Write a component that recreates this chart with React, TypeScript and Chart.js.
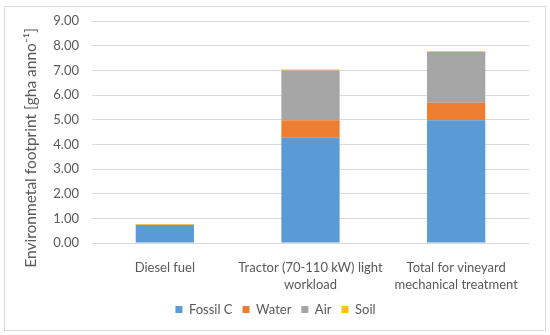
import React, { useEffect, useRef } from "react";
import { Chart, registerables } from "chart.js";

Chart.register(...registerables);

const categories: (string | string[])[] = [
  "Diesel fuel",
  ["Tractor (70-110 kW) light", "workload"],
  ["Total for vineyard", "mechanical treatment"],
];
const fossilC = [0.73, 4.27, 4.98];
const water = [0.0, 0.71, 0.71];
const air = [0.01, 2.01, 2.05];
const soil = [0.03, 0.04, 0.03];
const yTicks = [0, 1, 2, 3, 4, 5, 6, 7, 8, 9];

const FONT = "Lato, 'Open Sans', sans-serif";
const TEXT = "#595959";

export default function App() {
  const ref = useRef<HTMLCanvasElement | null>(null);
  useEffect(() => {
    if (!ref.current) return;
    const chart = new Chart(ref.current, {
      type: "bar",
      data: {
        labels: categories,
        datasets: [
          { label: "Fossil C", data: fossilC, backgroundColor: "#5B9BD5" },
          { label: "Water", data: water, backgroundColor: "#ED7D31" },
          { label: "Air", data: air, backgroundColor: "#A5A5A5" },
          { label: "Soil", data: soil, backgroundColor: "#FFC000" },
        ],
      },
      options: {
        animation: false,
        responsive: false,
        maintainAspectRatio: false,
        layout: { padding: { left: 22, right: 21, top: 21, bottom: 9 } },
        datasets: { bar: { barPercentage: 0.4, categoryPercentage: 1 } },
        plugins: {
          tooltip: { enabled: false },
          legend: {
            position: "bottom",
            labels: {
              boxWidth: 7,
              boxHeight: 7,
              padding: 10,
              color: TEXT,
              font: { family: FONT, size: 13 },
            },
          },
        },
        scales: {
          x: {
            stacked: true,
            grid: { display: false },
            border: { display: false },
            ticks: {
              color: TEXT,
              font: { family: FONT, size: 13, lineHeight: 1.3 },
              maxRotation: 0,
              autoSkip: false,
              padding: 8,
            },
            afterFit: (s: any) => {
              s.height = 50;
            },
          },
          y: {
            stacked: true,
            min: 0,
            max: 9,
            afterBuildTicks: (s: any) => {
              s.ticks = yTicks.map((v) => ({ value: v }));
            },
            grid: { color: "#D9D9D9", lineWidth: 1, drawTicks: false },
            border: { display: false },
            ticks: {
              color: TEXT,
              font: { family: FONT, size: 13 },
              padding: 13,
              callback: (v: any) => Number(v).toFixed(2),
            },
            title: {
              display: true,
              text: "Environmetal footprint [gha anno⁻¹]        ",
              color: TEXT,
              font: { family: FONT, size: 15.5 },
              padding: 0,
            },
            afterFit: (s: any) => {
              s.width = 70;
            },
          },
        },
      },
    });
    return () => chart.destroy();
  }, []);
  return (
    <div style={{ position: "absolute", left: 0, top: 0, width: 550, height: 335, background: "#fff" }}>
      <div
        style={{
          position: "absolute",
          left: 4,
          top: 6,
          width: 540,
          height: 323,
          border: "1px solid #D9D9D9",
        }}
      />
      <canvas ref={ref} width={550} height={335} style={{ position: "absolute", left: 0, top: 0 }} />
    </div>
  );
}
